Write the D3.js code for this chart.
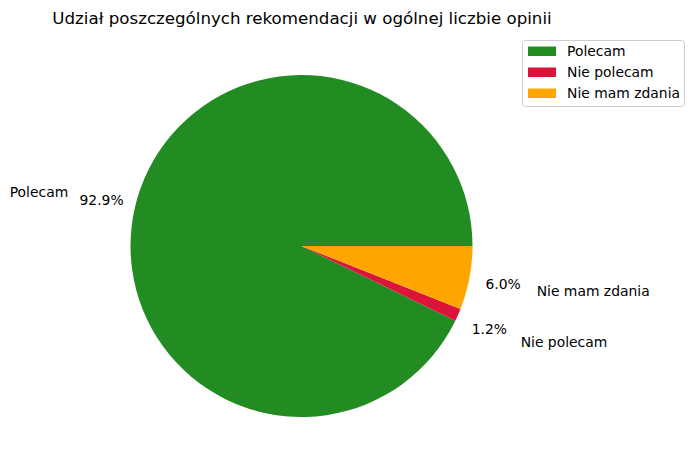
<!DOCTYPE html>
<html><head><meta charset="utf-8">
<script src="https://cdn.jsdelivr.net/npm/d3@7"></script>
<style>body{margin:0;background:#fff}svg{display:block}text{font-family:"DejaVu Sans",sans-serif;fill:#000}</style>
</head><body>
<svg id="c" width="695" height="470"></svg>
<script>
const categories = ["Polecam", "Nie polecam", "Nie mam zdania"];
const values = [92.9, 1.2, 6.0];
const pctLabels = ["92.9%", "1.2%", "6.0%"];
const colors = ["#228B22", "#DC143C", "#FFA500"];
const title = "Udział poszczególnych rekomendacji w ogólnej liczbie opinii";

const svg = d3.select("#c");
const cx = 301.5, cy = 246, R = 171;
const total = d3.sum(values);
// matplotlib: start at 3 o'clock, counterclockwise
const angle = d3.scaleLinear().domain([0, total]).range([0, 2 * Math.PI]);
let cum = 0;
const slices = values.map((v, i) => {
  const a0 = angle(cum); cum += v; const a1 = angle(cum);
  return {i, a0, a1};
});
const arc = d3.arc().innerRadius(0).outerRadius(R);
const g = svg.append("g").attr("transform", `translate(${cx},${cy})`);
g.selectAll("path").data(slices).join("path")
  .attr("d", d => arc({startAngle: Math.PI/2 - d.a1, endAngle: Math.PI/2 - d.a0}))
  .attr("fill", d => colors[d.i]);

const fs = 13.9;
slices.forEach(d => {
  const m = (d.a0 + d.a1) / 2;
  const c = Math.cos(m), s = Math.sin(m);
  g.append("text").attr("x", 1.4 * R * c).attr("y", -1.4 * R * s)
    .attr("text-anchor", c < 0 ? "end" : "start").attr("dominant-baseline", "central")
    .attr("font-size", fs).text(categories[d.i]);
  g.append("text").attr("x", 1.2 * R * c).attr("y", -1.2 * R * s)
    .attr("text-anchor", "middle").attr("dominant-baseline", "central")
    .attr("font-size", fs).text(pctLabels[d.i]);
});

svg.append("text").attr("x", 302).attr("y", 18).attr("text-anchor", "middle")
  .attr("dominant-baseline", "central").attr("font-size", 16.67).text(title);

// legend
const lg = svg.append("g");
lg.append("rect").attr("x", 522.5).attr("y", 40.5).attr("width", 162).attr("height", 66)
  .attr("rx", 3).attr("fill", "#fff").attr("fill-opacity", 0.8).attr("stroke", "#cccccc");
categories.forEach((cat, i) => {
  const y = 51 + i * 21;
  lg.append("rect").attr("x", 528).attr("y", y - 4.5).attr("width", 28).attr("height", 9.5).attr("fill", colors[i]);
  lg.append("text").attr("x", 567).attr("y", y).attr("dominant-baseline", "central")
    .attr("font-size", fs).text(cat);
});
</script>
</body></html>
